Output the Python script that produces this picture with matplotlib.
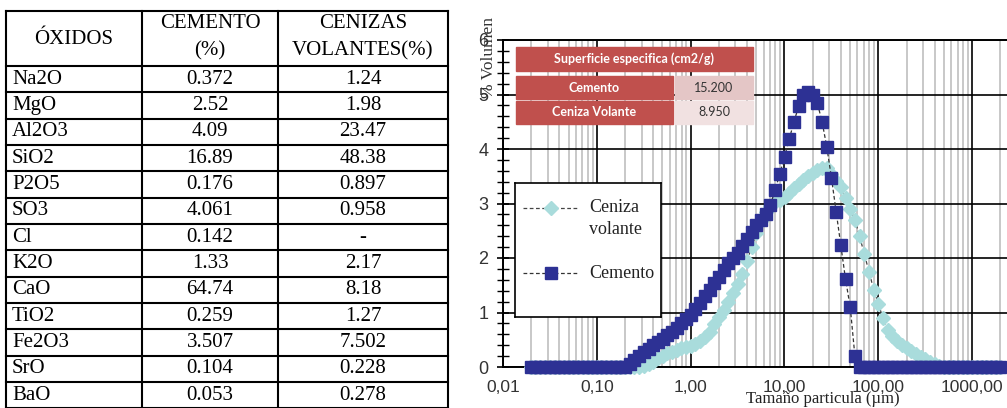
import matplotlib
matplotlib.use('Agg')
import matplotlib.pyplot as plt
from matplotlib.patches import Rectangle
from matplotlib.ticker import LogLocator, MultipleLocator, NullFormatter

# ---- tabla de oxidos ----
oxidos = ['Na2O', 'MgO', 'Al2O3', 'SiO2', 'P2O5', 'SO3', 'Cl', 'K2O', 'CaO',
          'TiO2', 'Fe2O3', 'SrO', 'BaO']
cemento_pct = ['0.372', '2.52', '4.09', '16.89', '0.176', '4.061', '0.142',
               '1.33', '64.74', '0.259', '3.507', '0.104', '0.053']
cenizas_pct = ['1.24', '1.98', '23.47', '48.38', '0.897', '0.958', '-',
               '2.17', '8.18', '1.27', '7.502', '0.228', '0.278']

# ---- superficie especifica ----
sup_nombres = ['Cemento', 'Ceniza Volante']
sup_valores = ['15.200', '8.950']

# ---- granulometria (clases de tamano, um) ----
tamanos = [0.020, 0.022, 0.025, 0.028, 0.032, 0.036, 0.040, 0.045, 0.050, 0.056,
           0.063, 0.071, 0.080, 0.089, 0.100, 0.112, 0.126, 0.142, 0.159, 0.178,
           0.200, 0.224, 0.252, 0.283, 0.317, 0.356, 0.399, 0.448, 0.502, 0.564,
           0.632, 0.710, 0.796, 0.893, 1.002, 1.125, 1.262, 1.416, 1.589, 1.783,
           2.000, 2.244, 2.518, 2.825, 3.170, 3.557, 3.991, 4.477, 5.024, 5.637,
           6.325, 7.096, 7.962, 8.934, 10.024, 11.247, 12.619, 14.159, 15.887, 17.825,
           20.000, 22.440, 25.179, 28.251, 31.698, 35.566, 39.905, 44.774, 50.238, 56.368,
           63.246, 70.963, 79.621, 89.337, 100.24, 112.47, 126.19, 141.59, 158.87, 178.25,
           200.00, 224.40, 251.79, 282.51, 316.98, 355.66, 399.05, 447.74, 502.38, 563.68,
           632.46, 709.63, 796.21, 893.37, 1002.4, 1124.7, 1261.9, 1415.9, 1588.7, 1782.5,
           2000.0]

cemento_vol = [0, 0, 0, 0, 0, 0, 0, 0, 0, 0,
               0, 0, 0, 0, 0, 0, 0, 0, 0, 0,
               0, 0.06, 0.13, 0.20, 0.27, 0.33, 0.40, 0.46, 0.52, 0.58,
               0.65, 0.72, 0.80, 0.88, 0.96, 1.06, 1.18, 1.30, 1.42, 1.54,
               1.65, 1.78, 1.90, 2.00, 2.10, 2.22, 2.35, 2.48, 2.60, 2.70,
               2.80, 2.98, 3.25, 3.55, 3.86, 4.18, 4.50, 4.78, 4.99, 5.05,
               4.99, 4.84, 4.50, 4.04, 3.47, 2.85, 2.23, 1.61, 1.10, 0.20,
               0, 0, 0, 0, 0, 0, 0, 0, 0, 0,
               0, 0, 0, 0, 0, 0, 0, 0, 0, 0,
               0, 0, 0, 0, 0, 0, 0, 0, 0, 0,
               0]

ceniza_vol = [0, 0, 0, 0, 0, 0, 0, 0, 0, 0,
              0, 0, 0, 0, 0, 0, 0, 0, 0, 0,
              0, 0, 0, 0, 0.02, 0.06, 0.10, 0.16, 0.21, 0.25,
              0.28, 0.31, 0.34, 0.36, 0.38, 0.42, 0.47, 0.55, 0.65, 0.78,
              0.92, 1.05, 1.20, 1.36, 1.52, 1.70, 1.95, 2.20, 2.45, 2.68,
              2.85, 2.96, 3.02, 3.06, 3.12, 3.20, 3.28, 3.36, 3.43, 3.50,
              3.56, 3.62, 3.66, 3.65, 3.55, 3.42, 3.30, 3.10, 2.90, 2.70,
              2.40, 2.07, 1.75, 1.42, 1.15, 0.90, 0.68, 0.56, 0.47, 0.40,
              0.34, 0.29, 0.24, 0.19, 0.14, 0.09, 0.05, 0.02, 0, 0,
              0, 0, 0, 0, 0, 0, 0, 0, 0, 0,
              0]

xtick_vals = [0.01, 0.1, 1, 10, 100, 1000]
xtick_labels = ['0,01', '0,10', '1,00', '10,00', '100,00', '1000,00']

W, H = 1007, 408
AZUL = '#2D3194'
CIAN = '#A9DCDC'
ROJO = '#C0504D'

fig = plt.figure(figsize=(W / 100, H / 100), dpi=100)

# grafico principal (se sale por la derecha, como en el original)
ax = fig.add_axes([503 / W, 1 - 367 / H, 516 / W, 327 / H])
ax.set_xscale('log')
ax.set_xlim(0.01, 10 ** 3.5)
ax.set_ylim(0, 6)

ax.plot(tamanos, ceniza_vol, linestyle=(0, (3, 2)), color='#444444', lw=0.9,
        marker='D', ms=7.5, mfc=CIAN, mec=CIAN, zorder=3, clip_on=False)
ax.plot(tamanos, cemento_vol, linestyle=(0, (3, 2)), color='#333333', lw=0.9,
        marker='s', ms=8.5, mfc=AZUL, mec=AZUL, zorder=4, clip_on=False)

ax.set_xticks(xtick_vals, labels=xtick_labels)
ax.xaxis.set_minor_locator(LogLocator(base=10, subs=range(2, 10), numticks=20))
ax.xaxis.set_minor_formatter(NullFormatter())
ax.yaxis.set_major_locator(MultipleLocator(1))
ax.yaxis.set_minor_locator(MultipleLocator(0.2))

ax.grid(which='minor', axis='x', color='#C4C4C4', lw=1.3, zorder=0)
ax.grid(which='major', axis='both', color='black', lw=1.2, zorder=1)
ax.set_axisbelow(True)

ax.tick_params(axis='x', which='both', length=0, pad=9, labelsize=12.5,
               labelcolor='#333333')
ax.tick_params(axis='y', which='major', direction='inout', length=9, width=1.2,
               pad=6, labelsize=13, labelcolor='#333333')
ax.tick_params(axis='y', which='minor', direction='inout', length=8, width=1.0)
for lab in ax.get_xticklabels() + ax.get_yticklabels():
    lab.set_fontfamily('Liberation Sans')
for s in ['left', 'bottom', 'top']:
    ax.spines[s].set_linewidth(1.4)

fig.text(489 / W, 1 - 58 / H, '% Volumen', rotation=90, ha='center', va='center',
         family='Liberation Serif', fontsize=12.5, color='#333333')
fig.text(823 / W, 1 - 399 / H, 'Tamaño particula (µm)', ha='center', va='center',
         family='Liberation Serif', fontsize=12, color='#222222')

# capa en pixeles para la tabla y el recuadro rojo
ov = fig.add_axes([0, 0, 1, 1])
ov.set_xlim(0, W)
ov.set_ylim(H, 0)
ov.axis('off')

# recuadro superficie especifica
ov.add_patch(Rectangle((516, 47), 237, 24, color=ROJO, zorder=5))
ov.text(634.5, 59, 'Superficie especifica (cm2/g)', ha='center', va='center',
        color='white', fontsize=9, weight='bold', family='Lato', zorder=6)
fill_vals = ['#E4C6C6', '#F1E1E1']
for k, (nom, val) in enumerate(zip(sup_nombres, sup_valores)):
    y0 = 76 + k * 25
    ov.add_patch(Rectangle((516, y0), 157, 23, color=ROJO, zorder=5))
    ov.add_patch(Rectangle((674.5, y0), 78.5, 23, color=fill_vals[k], zorder=5))
    ov.text(594.5, y0 + 11.5, nom, ha='center', va='center', color='white',
            fontsize=9, weight='bold', family='Lato', zorder=6)
    ov.text(714, y0 + 11.5, val, ha='center', va='center', color='#333333',
            fontsize=9, family='Lato', zorder=6)

# tabla de oxidos
x_cols = [6, 142, 278, 448]
y_top, y_head = 11, 66
row_h = 26.33
y_rows = [y_head + row_h * k for k in range(len(oxidos) + 1)]
for xc in x_cols:
    ov.plot([xc, xc], [y_top, H + 2], color='black', lw=1.5)
for yr in [y_top] + y_rows:
    ov.plot([x_cols[0], x_cols[-1]], [yr, yr], color='black', lw=1.5)

tfont = dict(family='Liberation Serif', fontsize=15, color='black', va='center')
ov.text(74, 40, 'ÓXIDOS', ha='center', **tfont)
ov.text(210, 23, 'CEMENTO', ha='center', **tfont)
ov.text(210, 51, '(%)', ha='center', **tfont)
ov.text(363, 23, 'CENIZAS', ha='center', **tfont)
ov.text(363, 51, 'VOLANTES(%)', ha='center', **tfont)
for k in range(len(oxidos)):
    yc = y_rows[k] + row_h / 2
    ov.text(12, yc, oxidos[k], ha='left', **tfont)
    ov.text(210, yc, cemento_pct[k], ha='center', **tfont)
    ov.text(363, yc, cenizas_pct[k], ha='center', **tfont)

# leyenda
lg = fig.add_axes([515 / W, 1 - 317 / H, 146 / W, 134 / H])
lg.set_xlim(515, 661)
lg.set_ylim(317, 183)
lg.set_xticks([])
lg.set_yticks([])
for s in lg.spines.values():
    s.set_linewidth(1.2)
lg.plot([523, 578], [208, 208], linestyle=(0, (3, 2)), color='#444444', lw=0.9)
lg.plot([550.5], [208], marker='D', ms=7.5, mfc=CIAN, mec=CIAN)
lg.plot([523, 578], [273, 273], linestyle=(0, (3, 2)), color='#333333', lw=0.9)
lg.plot([550.5], [273], marker='s', ms=8.5, mfc=AZUL, mec=AZUL)
lfont = dict(family='Liberation Serif', fontsize=13, color='#222222', va='center')
lg.text(589, 208, 'Ceniza', **lfont)
lg.text(589, 229, 'volante', **lfont)
lg.text(589, 273, 'Cemento', **lfont)

fig.savefig('out.png', dpi=100)
